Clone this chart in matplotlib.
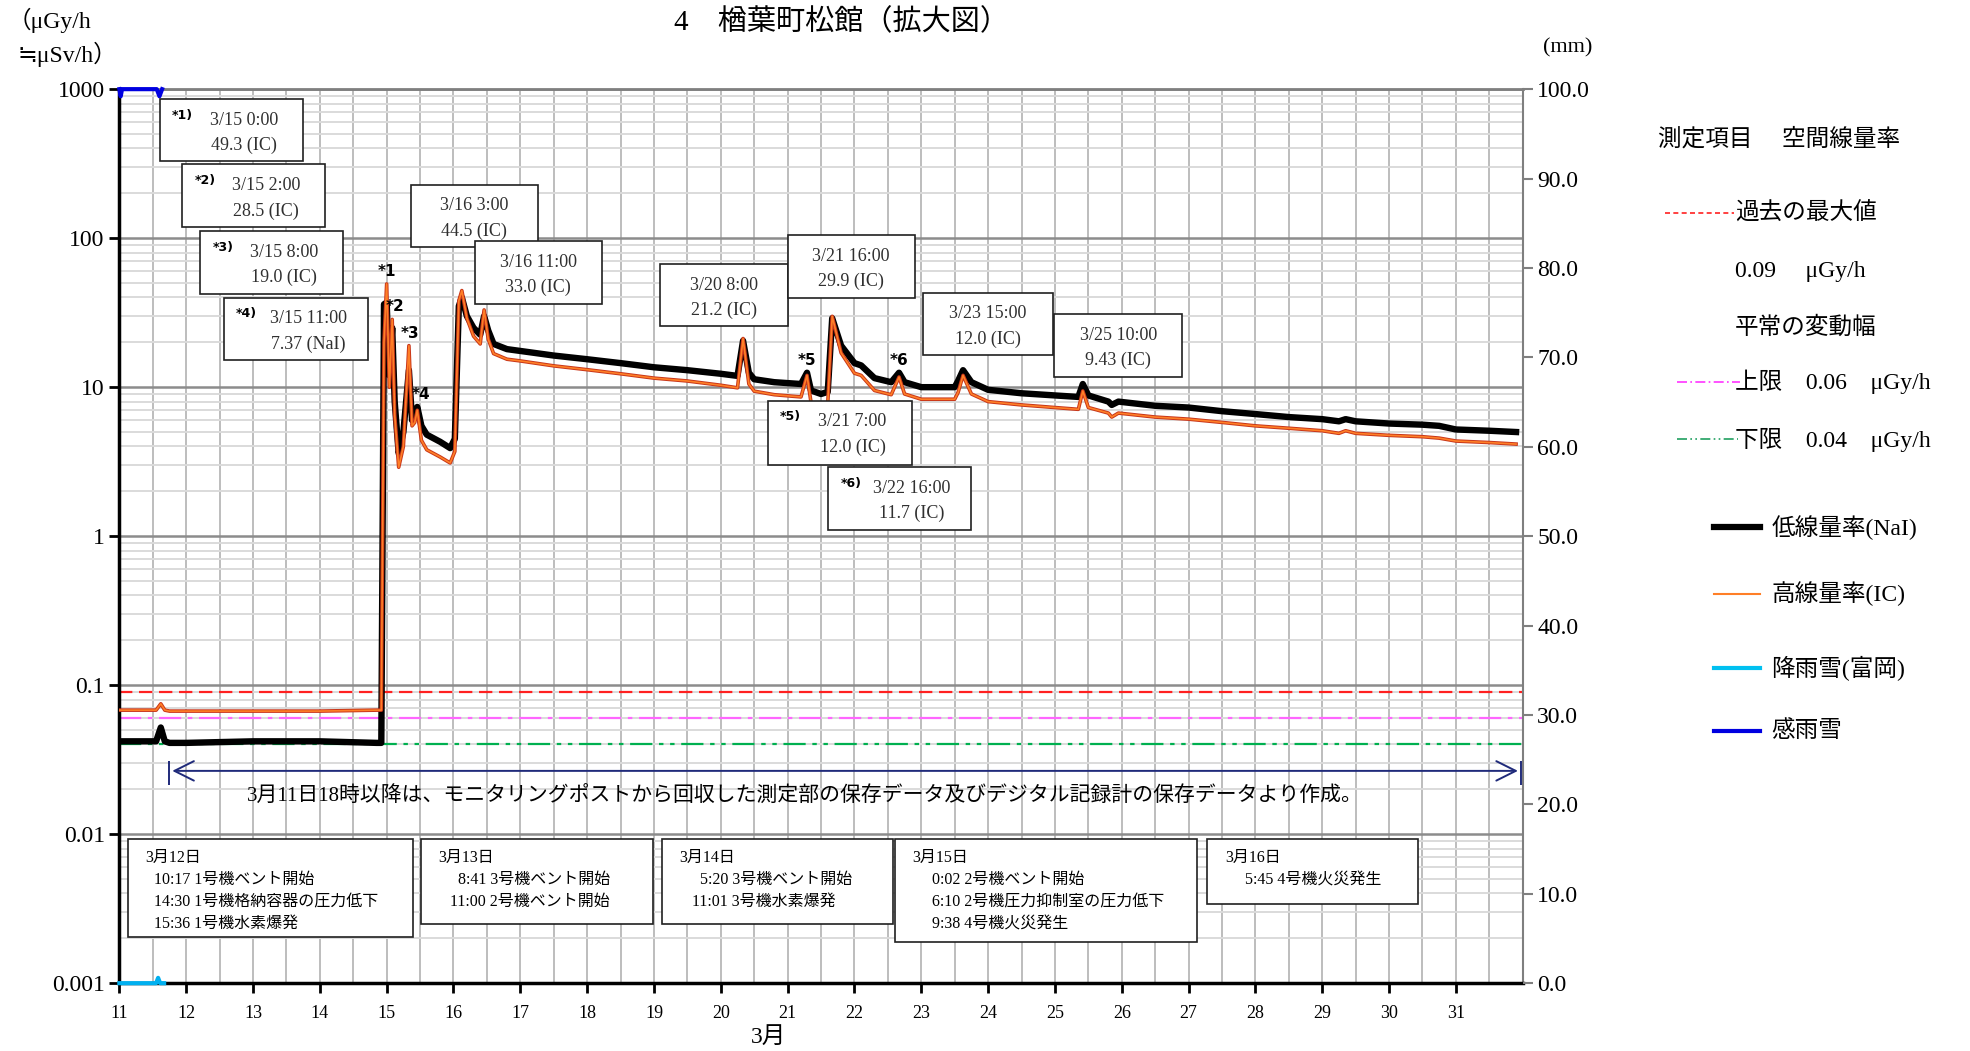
import matplotlib
matplotlib.use('Agg')
import matplotlib.pyplot as plt
import matplotlib.patheffects as pe
from matplotlib.patches import Rectangle
from matplotlib.lines import Line2D
from matplotlib.ticker import LogLocator, NullFormatter

plt.rcParams['font.family'] = ['Liberation Serif', 'Noto Sans CJK JP', 'DejaVu Sans']

# time axis in days of March (15.0 = 3/15 0:00)
days = [11.0, 11.55, 11.62, 11.68, 11.75, 12.0, 13.0, 14.0, 14.85, 14.92,
        14.96, 15.0, 15.04, 15.083, 15.12, 15.18, 15.25, 15.333, 15.38, 15.42,
        15.458, 15.52, 15.6, 15.8, 15.95, 16.02, 16.08, 16.125, 16.2, 16.3,
        16.4, 16.458, 16.52, 16.6, 16.8, 17.0, 17.5, 18.0, 18.5, 19.0,
        19.5, 20.0, 20.25, 20.333, 20.42, 20.5, 20.8, 21.2, 21.29, 21.35,
        21.5, 21.6, 21.667, 21.8, 22.0, 22.1, 22.3, 22.55, 22.667, 22.75,
        23.0, 23.5, 23.55, 23.625, 23.75, 24.0, 24.5, 25.0, 25.35, 25.417,
        25.5, 25.8, 25.85, 25.95, 26.5, 27.0, 27.5, 28.0, 28.5, 29.0,
        29.25, 29.35, 29.5, 30.0, 30.5, 30.75, 31.0, 31.5, 31.9]

# low dose rate (NaI), uGy/h
nai = [0.042, 0.042, 0.052, 0.042, 0.041, 0.041, 0.042, 0.042, 0.041, 0.041,
       36.0, 37.0, 12.0, 25.0, 8.0, 3.6, 5.0, 13.0, 6.0, 6.3,
       7.37, 5.5, 4.8, 4.3, 3.9, 4.5, 35.0, 40.0, 30.0, 25.0,
       22.5, 30.0, 24.0, 19.5, 18.0, 17.5, 16.3, 15.4, 14.5, 13.6,
       13.0, 12.3, 11.9, 20.5, 12.5, 11.3, 10.8, 10.5, 12.5, 9.5,
       9.0, 9.3, 29.0, 19.0, 14.5, 14.0, 11.5, 10.8, 12.5, 10.8,
       10.0, 10.0, 11.0, 13.0, 10.8, 9.6, 9.1, 8.8, 8.6, 10.5,
       8.8, 8.0, 7.6, 8.0, 7.5, 7.3, 6.9, 6.6, 6.3, 6.1,
       5.9, 6.1, 5.9, 5.7, 5.6, 5.5, 5.2, 5.1, 5.0]

# high dose rate (IC), uGy/h
ic = [0.068, 0.068, 0.075, 0.068, 0.067, 0.067, 0.067, 0.067, 0.068, 0.068,
      20.0, 49.3, 10.0, 28.5, 6.5, 2.9, 4.0, 19.0, 5.5, 5.8,
      7.0, 4.4, 3.8, 3.4, 3.1, 3.7, 38.0, 44.5, 29.0, 22.0,
      19.5, 33.0, 21.0, 16.8, 15.4, 15.0, 13.9, 13.1, 12.3, 11.5,
      11.0, 10.3, 9.9, 21.2, 10.5, 9.4, 8.9, 8.6, 12.0, 7.9,
      7.4, 7.7, 29.9, 17.0, 12.4, 12.0, 9.5, 8.9, 11.7, 9.0,
      8.3, 8.3, 9.2, 12.0, 9.0, 8.0, 7.6, 7.3, 7.1, 9.43,
      7.3, 6.7, 6.3, 6.7, 6.3, 6.1, 5.8, 5.5, 5.3, 5.1,
      4.9, 5.1, 4.9, 4.75, 4.65, 4.55, 4.35, 4.25, 4.15]

# precipitation (Tomioka), mm
rain_days = [11.0, 11.55, 11.58, 11.61, 11.67]
rain_mm = [0.0, 0.0, 0.6, 0.0, 0.0]
# rain sensor, plotted at top of mm axis
sense_days = [11.0, 11.02, 11.04, 11.56, 11.6, 11.64]
sense_val = [100.0, 99.2, 100.0, 100.0, 99.2, 100.0]

past_max = 0.09
normal_hi = 0.06
normal_lo = 0.04

day_ticks = list(range(11, 32))
left_ticks = [0.001, 0.01, 0.1, 1, 10, 100, 1000]
left_labels = ['0.001', '0.01', '0.1', '1', '10', '100', '1000']
right_ticks = [0, 10, 20, 30, 40, 50, 60, 70, 80, 90, 100]

# peak markers (label, day, value)
peak_marks = [('*1', 15.0, 49.3), ('*2', 15.12, 28.5), ('*3', 15.345, 19.0),
              ('*4', 15.52, 7.4), ('*5', 21.29, 12.5), ('*6', 22.667, 12.5)]

# peak annotation boxes: prefix, line1, line2, box in reference pixels (x0, y0, x1, y1)
peak_notes = [
    ('*1)', '3/15 0:00', '49.3 (IC)', (127, 79, 241, 128)),
    ('*2)', '3/15 2:00', '28.5 (IC)', (145, 131, 259, 181)),
    ('*3)', '3/15 8:00', '19.0 (IC)', (159, 184, 273, 234)),
    ('*4)', '3/15 11:00', '7.37 (NaI)', (178, 237, 293, 287)),
    ('', '3/16 3:00', '44.5 (IC)', (327, 147, 428, 197)),
    ('', '3/16 11:00', '33.0 (IC)', (378, 192, 479, 242)),
    ('', '3/20 8:00', '21.2 (IC)', (525, 210, 627, 260)),
    ('', '3/21 16:00', '29.9 (IC)', (627, 187, 728, 237)),
    ('', '3/23 15:00', '12.0 (IC)', (735, 233, 838, 283)),
    ('', '3/25 10:00', '9.43 (IC)', (839, 250, 941, 300)),
    ('*5)', '3/21 7:00', '12.0 (IC)', (611, 319, 726, 370)),
    ('*6)', '3/22 16:00', '11.7 (IC)', (659, 372, 773, 422)),
]

events = [
    ('3月12日\n  10:17 1号機ベント開始\n  14:30 1号機格納容器の圧力低下\n  15:36 1号機水素爆発', (102, 668, 329, 746)),
    ('3月13日\n     8:41 3号機ベント開始\n   11:00 2号機ベント開始', (335, 668, 520, 736)),
    ('3月14日\n     5:20 3号機ベント開始\n   11:01 3号機水素爆発', (527, 668, 711, 736)),
    ('3月15日\n     0:02 2号機ベント開始\n     6:10 2号機圧力抑制室の圧力低下\n     9:38 4号機火災発生', (712, 668, 953, 750)),
    ('3月16日\n     5:45 4号機火災発生', (961, 668, 1129, 720)),
]

note_start, note_end, note_level = 11.75, 31.97, 0.0266
note_text = '3月11日18時以降は、モニタリングポストから回収した測定部の保存データ及びデジタル記録計の保存データより作成。'

W, H = 1568.0, 837.0


def fx(x):
    return x / W


def fy(y):
    return 1 - y / H


fig = plt.figure(figsize=(19.7, 10.51), dpi=100)
ax = fig.add_axes([fx(95), fy(783), fx(1212) - fx(95), fy(71) - fy(783)])

ax.set_yscale('log')
ax.set_ylim(0.001, 1000)
ax.set_xlim(11, 32)

# grid
ax.set_xticks(day_ticks)
ax.set_xticks([d + 0.5 for d in day_ticks], minor=True)
ax.yaxis.set_minor_locator(LogLocator(base=10, subs=[2, 3, 4, 5, 6, 7, 8, 9], numticks=20))
ax.yaxis.set_minor_formatter(NullFormatter())
ax.grid(which='minor', axis='y', color='#DADADA', lw=1.4)
ax.grid(which='major', axis='y', color='#8C8C8C', lw=1.8)
ax.grid(which='both', axis='x', color='#BDBDBD', lw=1.4)
ax.set_axisbelow(True)

ax.set_yticks(left_ticks)
ax.set_yticklabels(left_labels, fontsize=17)
ax.set_xticklabels([str(d) for d in day_ticks], fontsize=13)
ax.tick_params(axis='both', which='major', direction='out', length=7, width=2, color='black')
ax.tick_params(axis='both', which='minor', length=0)
ax.tick_params(axis='x', pad=9)

for s in ['left', 'bottom']:
    ax.spines[s].set_linewidth(2.5)
    ax.spines[s].set_color('black')
ax.spines['top'].set_color('#7F7F7F')
ax.spines['top'].set_linewidth(2)
ax.spines['right'].set_color('#7F7F7F')
ax.spines['right'].set_linewidth(1.5)

# reference levels
ax.axhline(past_max, color='#FF2020', ls=(0, (6, 3)), lw=1.6, zorder=2)
ax.axhline(normal_hi, color='#FF66FF', ls=(0, (10, 3, 2, 3)), lw=1.6, zorder=2)
ax.axhline(normal_lo, color='#00B050', ls=(0, (10, 3, 2, 3, 2, 3)), lw=1.6, zorder=2)

# dose rates
ax.plot(days, nai, color='black', lw=4.6, zorder=3, solid_joinstyle='round')
ax.plot(days, ic, color='#FF7F27', lw=1.2, zorder=4,
        path_effects=[pe.Stroke(linewidth=2.6, foreground='#C8361A'), pe.Normal()])

for lab, d, v in peak_marks:
    ax.text(d, v * 1.08, lab, ha='center', va='bottom', fontsize=11,
            fontweight='bold', family='DejaVu Sans', zorder=6)

# note arrow
ax.annotate('', xy=(note_end, note_level), xytext=(note_start, note_level),
            arrowprops=dict(arrowstyle='<->', color='#1F2A7A', lw=1.4, mutation_scale=35))
ax.vlines([note_start, note_end], note_level * 0.8, note_level * 1.17, color='#1F2A7A', lw=1.4)
ax.text((note_start + note_end) / 2 - 0.6, note_level * 0.78, note_text,
        ha='center', va='top', fontsize=15)

# precipitation axis
ax2 = ax.twinx()
ax2.set_ylim(0, 100)
ax2.set_yticks(right_ticks)
ax2.set_yticklabels(['%.1f' % v for v in right_ticks], fontsize=17)
ax2.tick_params(axis='y', direction='out', length=7, width=1.5, color='#7F7F7F')
for s in ax2.spines.values():
    s.set_visible(False)
ax2.plot(rain_days, rain_mm, color='#00B0F0', lw=3, clip_on=False)
ax2.plot(sense_days, sense_val, color='#0000E0', lw=3, clip_on=False)

# peak annotation boxes
for pre, l1, l2, (x0, y0, x1, y1) in peak_notes:
    fig.add_artist(Rectangle((fx(x0), fy(y1)), fx(x1) - fx(x0), fy(y0) - fy(y1),
                             transform=fig.transFigure, fc='white', ec='#202020', lw=1.2))
    cx = (x0 + x1) / 2
    if pre:
        fig.text(fx(x0 + 10), fy(y0 + 13), pre, fontsize=9, fontweight='bold',
                 family='DejaVu Sans', ha='left', va='center')
        cx += 10
    fig.text(fx(cx), fy(y0 + 17), l1, fontsize=13, ha='center', va='center', color='#303030')
    fig.text(fx(cx), fy(y0 + 37), l2, fontsize=13, ha='center', va='center', color='#303030')

# event boxes
for txt, (x0, y0, x1, y1) in events:
    fig.add_artist(Rectangle((fx(x0), fy(y1)), fx(x1) - fx(x0), fy(y0) - fy(y1),
                             transform=fig.transFigure, fc='white', ec='#202020', lw=1.2))
    fig.text(fx(x0 + 14), fy(y0 + 9), txt, fontsize=11.5, ha='left', va='top', linespacing=1.5)

# titles and axis labels
fig.text(fx(670), fy(18), '4　楢葉町松館（拡大図）', fontsize=21, ha='center', va='center')
fig.text(fx(6), fy(16), '（μGy/h', fontsize=17, ha='left', va='center')
fig.text(fx(14), fy(43), '≒μSv/h）', fontsize=17, ha='left', va='center')
fig.text(fx(1228), fy(38), '(mm)', fontsize=16, ha='left', va='center')
fig.text(fx(612), fy(826), '3月', fontsize=17, ha='center', va='center')

# legend
lx = 1381
fig.text(fx(1320), fy(111), '測定項目　 空間線量率', fontsize=17, ha='left', va='center')
fig.add_artist(Line2D([fx(1325), fx(1380)], [fy(170), fy(170)], color='#FF2020', lw=1.2, ls=(0, (3, 2))))
fig.text(fx(lx), fy(170), '過去の最大値', fontsize=17, ha='left', va='center')
fig.text(fx(lx), fy(216), '0.09　 μGy/h', fontsize=17, ha='left', va='center')
fig.text(fx(lx), fy(261), '平常の変動幅', fontsize=17, ha='left', va='center')
fig.add_artist(Line2D([fx(1335), fx(1385)], [fy(304), fy(304)], color='#FF33FF', lw=1.2, ls=(0, (6, 2, 1, 2))))
fig.text(fx(lx), fy(304), '上限　0.06　μGy/h', fontsize=17, ha='left', va='center')
fig.add_artist(Line2D([fx(1335), fx(1383)], [fy(350), fy(350)], color='#20A060', lw=1.2, ls=(0, (6, 2, 1, 2, 1, 2))))
fig.text(fx(lx), fy(350), '下限　0.04　μGy/h', fontsize=17, ha='left', va='center')

for y, col, lw, lab in [(420, 'black', 4.5, '低線量率(NaI)'), (473, '#FF7F27', 1.5, '高線量率(IC)'),
                        (532, '#00C0F0', 3, '降雨雪(富岡)'), (582, '#0000E0', 3, '感雨雪')]:
    fig.add_artist(Line2D([fx(1364), fx(1401)], [fy(y), fy(y)], color=col, lw=lw))
    fig.text(fx(1410), fy(y), lab, fontsize=17, ha='left', va='center')

plt.savefig('out.png', dpi=100)
